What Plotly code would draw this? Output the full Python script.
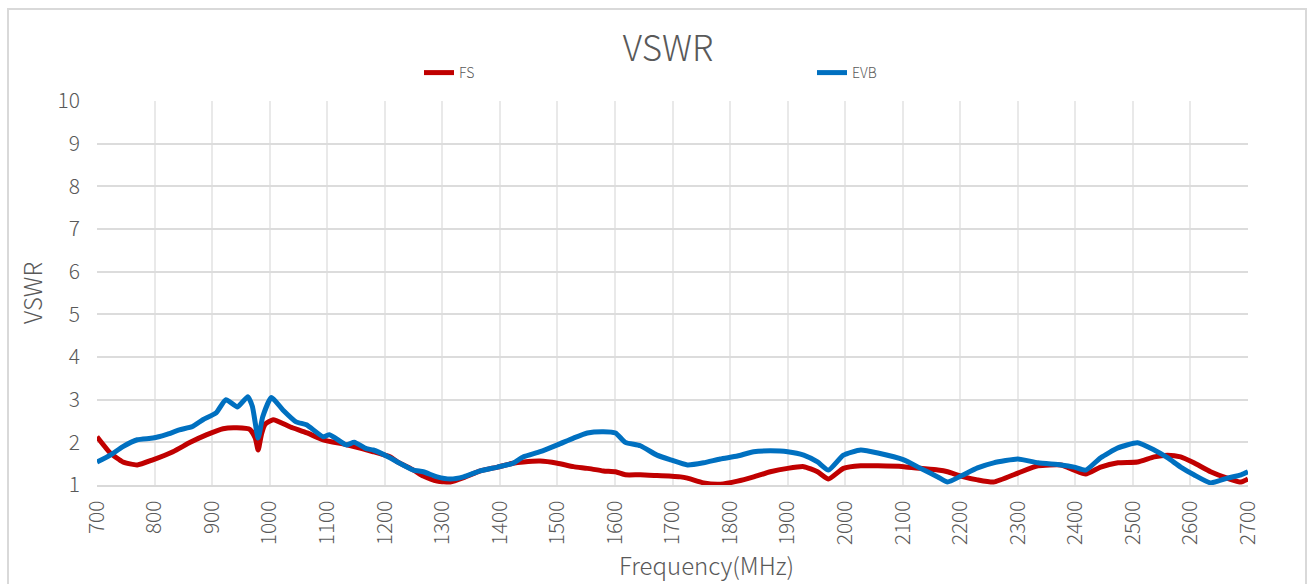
import plotly.graph_objects as go

fs_freq = [700, 723, 745, 770, 797, 832, 862, 891, 919, 943, 966, 975, 980, 986, 992, 1006,
           1036, 1065, 1093, 1134, 1180, 1209, 1222, 1250, 1267, 1291, 1314, 1337, 1366, 1396,
           1423, 1441, 1470, 1500, 1528, 1552, 1580, 1601, 1618, 1644, 1673, 1714, 1726, 1754,
           1783, 1813, 1841, 1870, 1900, 1928, 1952, 1971, 1997, 2027, 2057, 2102, 2131, 2161,
           2178, 2201, 2230, 2258, 2300, 2335, 2375, 2398, 2418, 2444, 2474, 2508, 2537, 2560,
           2583, 2606, 2635, 2664, 2688, 2700]
fs_vswr = [2.13, 1.75, 1.54, 1.47, 1.59, 1.78, 2.00, 2.18, 2.32, 2.34, 2.30, 2.10, 1.82, 2.20, 2.42, 2.53,
           2.36, 2.22, 2.06, 1.94, 1.78, 1.66, 1.54, 1.35, 1.21, 1.09, 1.07, 1.17, 1.33, 1.42,
           1.51, 1.54, 1.56, 1.51, 1.43, 1.39, 1.33, 1.31, 1.24, 1.24, 1.22, 1.19, 1.16, 1.05,
           1.02, 1.09, 1.19, 1.31, 1.39, 1.43, 1.31, 1.14, 1.39, 1.45, 1.45, 1.43, 1.39, 1.35,
           1.31, 1.21, 1.12, 1.07, 1.28, 1.45, 1.47, 1.35, 1.26, 1.42, 1.52, 1.54, 1.66, 1.70,
           1.66, 1.52, 1.31, 1.16, 1.07, 1.14]

evb_freq = [700, 723, 745, 770, 797, 820, 843, 866, 884, 907, 924, 944, 962, 970, 980, 988,
            1003, 1023, 1046, 1064, 1093, 1104, 1133, 1147, 1168, 1180, 1209, 1222, 1250, 1267,
            1291, 1314, 1337, 1366, 1396, 1423, 1441, 1470, 1500, 1528, 1552, 1580, 1601, 1618,
            1644, 1673, 1697, 1726, 1754, 1783, 1813, 1841, 1870, 1900, 1928, 1952, 1971, 1997,
            2027, 2057, 2102, 2131, 2161, 2178, 2201, 2230, 2258, 2300, 2335, 2375, 2398, 2418,
            2444, 2474, 2508, 2537, 2560, 2583, 2606, 2635, 2664, 2688, 2700]
evb_vswr = [1.54, 1.70, 1.90, 2.06, 2.10, 2.18, 2.29, 2.37, 2.53, 2.69, 3.00, 2.83, 3.07, 2.84, 2.10, 2.60,
            3.05, 2.76, 2.48, 2.41, 2.13, 2.18, 1.94, 2.00, 1.85, 1.82, 1.64, 1.54, 1.35, 1.31,
            1.19, 1.14, 1.19, 1.33, 1.42, 1.51, 1.66, 1.78, 1.94, 2.10, 2.22, 2.25, 2.22, 2.00,
            1.92, 1.70, 1.59, 1.47, 1.52, 1.61, 1.68, 1.78, 1.80, 1.78, 1.70, 1.54, 1.35, 1.70,
            1.82, 1.75, 1.59, 1.39, 1.19, 1.07, 1.21, 1.40, 1.52, 1.61, 1.52, 1.47, 1.42, 1.35,
            1.64, 1.87, 1.99, 1.82, 1.64, 1.42, 1.24, 1.05, 1.16, 1.24, 1.31]

x_ticks = list(range(700, 2701, 100))
y_ticks = list(range(1, 11))

FONT = "Noto Sans CJK SC"
GRAY = "#595959"
W = 300

fig = go.Figure()
fig.add_trace(go.Scatter(x=fs_freq, y=fs_vswr, name="FS", mode="lines",
                         line=dict(color="#c00000", width=5, shape="spline", smoothing=0.5)))
fig.add_trace(go.Scatter(x=evb_freq, y=evb_vswr, name="EVB", mode="lines",
                         line=dict(color="#0070c0", width=5, shape="spline", smoothing=0.5)))

fig.update_layout(
    width=1309, height=584,
    margin=dict(l=97, r=61, t=101, b=99),
    paper_bgcolor="white", plot_bgcolor="white",
    font=dict(family=FONT, color=GRAY, weight=W),
    title=dict(text="VSWR", x=668 / 1309, xanchor="center",
               y=1 - 49 / 584, yanchor="middle",
               font=dict(size=35, color=GRAY, family=FONT, weight=W)),
    legend=dict(orientation="h", x=(416 + 3 - 97) / 1151, xanchor="left",
                y=(485 - 73) / 384, yanchor="middle",
                entrywidth=348, entrywidthmode="pixels",
                font=dict(size=14, color=GRAY, family=FONT, weight=W),
                bgcolor="rgba(0,0,0,0)", itemsizing="constant"),
    showlegend=True,
    xaxis=dict(range=[700, 2700], tickvals=x_ticks, ticktext=[str(v) for v in x_ticks],
               tickangle=-90, tickfont=dict(size=21, color=GRAY, family=FONT, weight=W),
               ticks="", ticklabelstandoff=5,
               showgrid=True, gridcolor="#e9e9e9", gridwidth=1.5,
               showline=True, linecolor="#d9d9d9", linewidth=2,
               zeroline=False, mirror=False),
    yaxis=dict(range=[1, 10], tickvals=y_ticks,
               tickfont=dict(size=21, color=GRAY, family=FONT, weight=W),
               ticks="", ticklabelstandoff=16,
               showgrid=True, gridcolor="#dcdcdc", gridwidth=1.5, zeroline=False,
               title=dict(text="VSWR", standoff=8,
                          font=dict(size=24, color=GRAY, family=FONT, weight=W))),
    annotations=[dict(text="Frequency(MHz)", xref="paper", yref="paper",
                      x=(706 - 97) / 1151, y=(485 - 564) / 384,
                      xanchor="center", yanchor="middle", showarrow=False,
                      font=dict(size=24, color=GRAY, family=FONT, weight=W))],
    shapes=[dict(type="rect", xref="paper", yref="paper",
                 x0=(8 - 97) / 1151, x1=(1306 - 97) / 1151,
                 y0=(485 - 620) / 384, y1=(485 - 9) / 384,
                 line=dict(color="#d9d9d9", width=2), layer="below")],
)
fig.update_xaxes(automargin=False)
fig.update_yaxes(automargin=False)

fig.write_html("out.html", config={"displayModeBar": False},
               post_script="document.body.style.margin='0';document.body.style.overflow='hidden';")
